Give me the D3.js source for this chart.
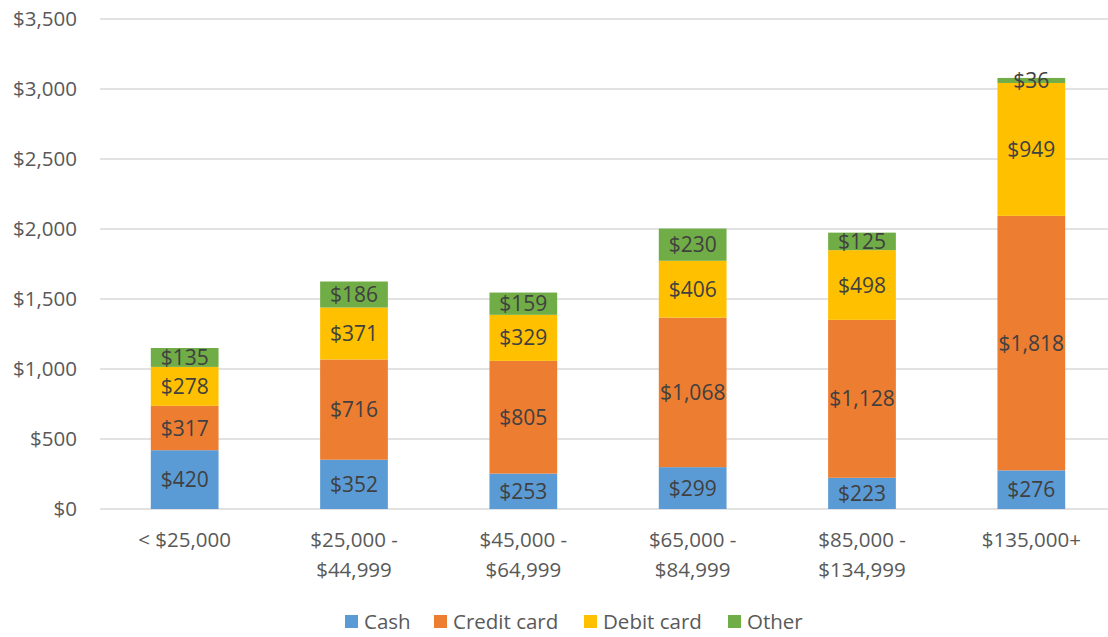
<!DOCTYPE html>
<html>
<head>
<meta charset="utf-8">
<script src="https://cdn.jsdelivr.net/npm/d3@7"></script>
<style>
  body { margin: 0; background: #fff; }
  svg text { font-family: "Open Sans", "Noto Sans", sans-serif; }
</style>
</head>
<body>
<div id="chart"></div>
<script>
// categories and series
const categories = [["< $25,000"], ["$25,000 -", "$44,999"], ["$45,000 -", "$64,999"],
  ["$65,000 -", "$84,999"], ["$85,000 -", "$134,999"], ["$135,000+"]];
const seriesNames = ["Cash", "Credit card", "Debit card", "Other"];
const cash = [420, 352, 253, 299, 223, 276];
const credit = [317, 716, 805, 1068, 1128, 1818];
const debit = [278, 371, 329, 406, 498, 949];
const other = [135, 186, 159, 230, 125, 36];
const yTicks = [0, 500, 1000, 1500, 2000, 2500, 3000, 3500];
const colors = ["#5b9bd5", "#ed7d31", "#ffc000", "#70ad47"];

const width = 1108, height = 637;
const margin = { top: 19, right: -8, bottom: 128, left: 100 };

const svg = d3.select("#chart").append("svg")
  .attr("width", width)
  .attr("height", height);

let rows = categories.map((c, i) => ({
  key: i, Cash: cash[i], "Credit card": credit[i], "Debit card": debit[i], Other: other[i]
}));
let stacked = d3.stack().keys(seriesNames)(rows);

let x = d3.scaleBand()
  .domain(d3.range(categories.length))
  .range([margin.left, width - margin.right])
  .paddingInner(0.6)
  .paddingOuter(0.3);
let y = d3.scaleLinear()
  .domain([0, 3500])
  .range([height - margin.bottom, margin.top]);

// gridlines
svg.append("g")
  .selectAll("line")
  .data(yTicks)
  .join("line")
  .attr("x1", margin.left)
  .attr("x2", width)
  .attr("y1", d => y(d))
  .attr("y2", d => y(d))
  .attr("stroke", "#d9d9d9")
  .attr("stroke-width", 1.5);

// y axis labels
let yAxis = d3.axisLeft(y)
  .tickValues(yTicks)
  .tickSize(0)
  .tickPadding(23)
  .tickFormat(d => "$" + d3.format(",")(d));
let yg = svg.append("g")
  .attr("transform", `translate(${margin.left}, 0)`)
  .call(yAxis);
yg.select(".domain").remove();
yg.selectAll("text")
  .attr("fill", "#595959")
  .style("font-size", "20.5px");

// bars
let layers = svg.append("g")
  .selectAll("g")
  .data(stacked)
  .join("g")
  .attr("fill", (d, i) => colors[i]);
layers.selectAll("rect")
  .data(d => d)
  .join("rect")
  .attr("x", (d, i) => x(i))
  .attr("width", x.bandwidth())
  .attr("y", d => y(d[1]))
  .attr("height", d => y(d[0]) - y(d[1]));

// data labels
layers.selectAll("text")
  .data(d => d.map(v => ({ v: v, key: d.key })))
  .join("text")
  .attr("x", (d, i) => x(i) + x.bandwidth() / 2)
  .attr("y", d => (y(d.v[0]) + y(d.v[1])) / 2)
  .attr("dy", "0.36em")
  .attr("text-anchor", "middle")
  .attr("fill", "#404040")
  .style("font-size", "21px")
  .text(d => "$" + d3.format(",")(d.v[1] - d.v[0]));

// x category labels
let xl = svg.append("g")
  .selectAll("text")
  .data(categories)
  .join("text")
  .attr("x", (d, i) => x(i) + x.bandwidth() / 2)
  .attr("y", 547)
  .attr("text-anchor", "middle")
  .attr("fill", "#595959")
  .style("font-size", "20.5px");
xl.selectAll("tspan")
  .data(d => d)
  .join("tspan")
  .attr("x", function () { return d3.select(this.parentNode).attr("x"); })
  .attr("dy", (d, i) => i === 0 ? 0 : 30)
  .text(d => d);

// legend
const legendX = [345, 434, 584, 728];
let legend = svg.append("g")
  .selectAll("g")
  .data(seriesNames)
  .join("g")
  .attr("transform", (d, i) => `translate(${legendX[i]}, 622)`);
legend.append("rect")
  .attr("x", 0)
  .attr("y", -7)
  .attr("width", 13)
  .attr("height", 13)
  .attr("fill", (d, i) => colors[i]);
legend.append("text")
  .attr("x", 19)
  .attr("dy", "0.36em")
  .attr("fill", "#595959")
  .style("font-size", "20.5px")
  .text(d => d);
</script>
</body>
</html>
